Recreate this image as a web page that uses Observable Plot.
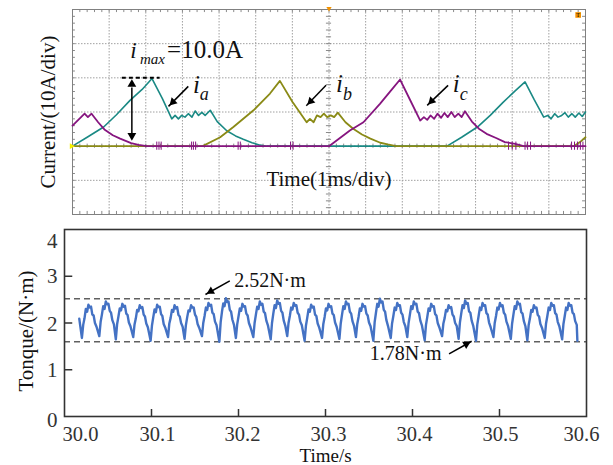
<!DOCTYPE html>
<html><head><meta charset="utf-8">
<script src="https://cdn.jsdelivr.net/npm/d3@7"></script>
<script src="https://cdn.jsdelivr.net/npm/@observablehq/plot@0.6"></script>
<style>
body{margin:0;background:#fff;width:613px;height:465px;overflow:hidden;position:relative;font-family:"Liberation Serif",serif;}
#top{position:absolute;left:0;top:0}
#bot{position:absolute;left:0;top:220px}
</style></head><body><div id="top"></div><div id="bot"></div>
<script>
// ---------- top panel: phase currents (time in ms, current in A) ----------
const iaT = [0,0.4,0.85,1.2,1.57,1.9,2.17,2.45,2.71,2.8,2.89,2.98,3.07,3.16,3.26,3.35,3.44,3.53,3.62,3.76,3.95,4.21,4.45,4.66,4.9,5.12,5.3,10.22,10.62,11.05,11.4,11.75,12.08,12.35,12.6,12.86,12.97,13.06,13.16,13.25,13.35,13.44,13.53,13.63,13.72,13.82,13.91,14.0];
const iaI = [0,1.3,2.8,4.6,6.7,8.3,9.9,7.0,4.0,4.5,4.0,4.5,4.25,4.75,4.25,5.15,4.5,4.95,4.5,5.25,3.6,2.25,1.5,1.0,0.5,0.15,0,0,1.3,2.8,4.5,6.4,8.1,9.4,6.8,4.25,4.5,4.0,4.75,4.25,4.5,4.9,4.25,4.75,4.25,4.85,4.35,5.0];
const ibT = [0,3.55,4.03,4.39,4.94,5.39,5.66,6.0,6.39,6.48,6.58,6.67,6.77,6.86,6.95,7.05,7.14,7.24,7.45,7.66,7.9,8.13,8.4,8.6,8.83,13.68,13.85,14.0];
const ibI = [0,0,1.3,2.8,5.25,7.7,9.55,6.5,3.5,4.0,3.5,4.5,4.25,4.75,4.25,4.5,4.25,4.9,3.5,2.55,1.7,1.1,0.5,0.25,0,0,0.6,1.3];
const icT = [0,0.33,0.42,0.52,0.7,0.87,1.1,1.3,1.6,1.8,2.03,7.0,7.57,7.94,8.39,8.7,8.94,9.2,9.49,9.59,9.68,9.77,9.87,9.96,10.06,10.15,10.24,10.34,10.43,10.53,10.62,10.71,10.9,11.09,11.3,11.56,11.8,12.08,12.31,14.0];
const icI = [3.0,4.75,4.25,4.75,3.5,2.45,1.6,1.1,0.45,0.2,0,0,2.3,3.5,6.2,8.2,9.75,6.9,3.75,4.25,3.85,4.5,4.0,4.75,4.15,4.85,4.25,5.0,4.25,4.75,4.25,5.1,3.6,2.55,1.8,1.2,0.6,0.35,0,0];
const icSpikeT = [2.3,2.36,2.42,3.25,3.3,3.36,4.52,4.58,5.95,6.02,11.9,12.0,12.1,12.35,12.42,12.5,13.62,13.7,13.78,13.86,13.93];
const iMax = 10.0;

// ---------- bottom panel: torque (time in s, N·m) ----------
const torqueDips = [30.020,30.040,30.059,30.079,30.099,30.119,30.138,30.158,30.178,30.197,30.217,30.237,30.256,30.276,30.296,30.316,30.335,30.355,30.375,30.394,30.414,30.434,30.453,30.473,30.493,30.513,30.532,30.552,30.572];
const torquePhase = [0,0.0015,0.003,0.0045,0.006,0.0075,0.009,0.0105,0.012,0.0135,0.015,0.0168];
const torqueCycles = [
 [1.68,1.96,2.10,2.30,2.24,2.39,2.33,2.35,2.18,2.16,2.00,1.92],
 [1.72,2.02,2.18,2.36,2.30,2.46,2.40,2.41,2.26,2.22,2.06,1.97],
 [1.65,1.98,2.14,2.31,2.27,2.41,2.35,2.37,2.20,2.17,2.01,1.93],
 [1.70,1.97,2.10,2.28,2.25,2.38,2.32,2.34,2.18,2.14,1.99,1.91],
 [1.62,1.94,2.12,2.29,2.23,2.39,2.34,2.35,2.19,2.15,1.98,1.90],
 [1.70,1.99,2.11,2.28,2.24,2.38,2.31,2.34,2.17,2.14,2.00,1.92],
 [1.66,1.95,2.12,2.27,2.25,2.38,2.33,2.33,2.18,2.13,1.98,1.90],
 [1.72,2.00,2.15,2.33,2.28,2.43,2.37,2.39,2.22,2.19,2.03,1.95],
 [1.60,2.02,2.24,2.42,2.36,2.53,2.45,2.46,2.28,2.24,2.07,1.96],
 [1.68,1.97,2.14,2.31,2.26,2.41,2.35,2.36,2.20,2.16,2.00,1.91],
 [1.70,2.00,2.18,2.35,2.30,2.46,2.39,2.41,2.24,2.21,2.05,1.95],
 [1.65,2.00,2.20,2.38,2.32,2.48,2.41,2.43,2.26,2.22,2.05,1.94],
 [1.72,2.00,2.15,2.33,2.29,2.43,2.37,2.38,2.22,2.18,2.03,1.95],
 [1.62,1.94,2.11,2.29,2.24,2.39,2.33,2.35,2.18,2.15,1.99,1.90],
 [1.68,1.98,2.13,2.31,2.27,2.41,2.34,2.36,2.20,2.17,2.01,1.92],
 [1.66,1.99,2.18,2.36,2.30,2.46,2.40,2.41,2.24,2.20,2.04,1.94],
 [1.70,1.98,2.13,2.31,2.26,2.41,2.35,2.36,2.20,2.16,2.01,1.93],
 [1.62,2.02,2.22,2.41,2.35,2.52,2.44,2.46,2.28,2.24,2.06,1.94],
 [1.68,1.99,2.15,2.33,2.28,2.43,2.37,2.38,2.22,2.18,2.02,1.93],
 [1.70,2.00,2.18,2.36,2.30,2.46,2.40,2.41,2.24,2.21,2.05,1.95],
 [1.63,1.96,2.13,2.31,2.26,2.41,2.35,2.36,2.19,2.16,2.00,1.91],
 [1.72,1.99,2.11,2.28,2.25,2.38,2.32,2.34,2.18,2.14,2.00,1.94],
 [1.66,2.01,2.20,2.38,2.32,2.48,2.41,2.43,2.25,2.22,2.05,1.94],
 [1.62,1.97,2.15,2.33,2.28,2.43,2.37,2.38,2.21,2.18,2.01,1.91],
 [1.70,2.00,2.15,2.33,2.29,2.43,2.36,2.38,2.22,2.18,2.03,1.94],
 [1.66,1.99,2.18,2.36,2.30,2.46,2.40,2.41,2.23,2.20,2.04,1.93],
 [1.63,1.95,2.10,2.28,2.24,2.38,2.32,2.33,2.17,2.14,1.98,1.90],
 [1.68,1.99,2.15,2.33,2.28,2.43,2.37,2.38,2.21,2.18,2.02,1.93],
 [1.65,1.98,2.15,2.33,2.28,2.43,2.37,2.38,2.22,2.19,2.04,1.96]
];
const torqueStart = [30.017, 2.09];
const torqueEnd = [30.5895, 1.62];
const torqueLimitLines = [2.52, 1.6];
const torqueLimitLabels = ["2.52N·m", "1.78N·m"];
const torqueXTicks = [30.0,30.1,30.2,30.3,30.4,30.5,30.6];
const torqueYTicks = [0,1,2,3,4];

// ---------- build tables ----------
const zip = (T, V) => T.map((t, i) => ({t, v: V[i]}));
const ia = zip(iaT, iaI), ib = zip(ibT, ibI), ic = zip(icT, icI);
const torque = [{t: torqueStart[0], v: torqueStart[1]}];
torqueDips.forEach((d, k) => torquePhase.forEach((p, j) => torque.push({t: d + p, v: torqueCycles[k][j]})));
torque.push({t: torqueEnd[0], v: torqueEnd[1]});

const SERIF = "Liberation Serif";
const TEAL = "#1a8984", OLIVE = "#8a8a16", PURPLE = "#86157f", BLUE = "#4472c4";

function arrow(x1, y1, x2, y2, rot, ox, oy, r = 4) {
  return [
    Plot.link([0], {x1: () => x1, y1: () => y1, x2: () => x2, y2: () => y2, stroke: "black", strokeWidth: 1.5}),
    Plot.dot([0], {x: () => x2, y: () => y2, symbol: "triangle2", r, fill: "black", stroke: "none", rotate: rot, dx: ox, dy: oy})
  ];
}

const minorX = d3.range(0, 14.001, 0.2);
const minorY = d3.range(-10, 20.001, 1);
const tickC = "#8a8a8a";

const topPlot = Plot.plot({
  width: 613, height: 220,
  marginLeft: 72, marginRight: 28, marginTop: 9, marginBottom: 6,
  x: {domain: [0, 14], axis: null},
  y: {domain: [-10, 20], axis: null},
  style: {fontFamily: SERIF, background: "transparent", overflow: "visible", color: "#111"},
  marks: [
    Plot.ruleX(d3.range(1, 14), {stroke: "#a0a0a0", strokeDasharray: "1.5,1.5"}),
    Plot.ruleY([-5, 0, 5, 10, 15], {stroke: "#a0a0a0", strokeDasharray: "1.5,1.5"}),
    Plot.ruleX(minorX, {y1: 20, y2: 19.55, stroke: tickC}),
    Plot.ruleX(minorX, {y1: -10, y2: -9.55, stroke: tickC}),
    Plot.ruleX(minorX, {y1: -0.3, y2: 0.3, stroke: tickC}),
    Plot.ruleY(minorY, {x1: 0, x2: 0.08, stroke: tickC}),
    Plot.ruleY(minorY, {x1: 14, x2: 13.92, stroke: tickC}),
    Plot.ruleY(minorY, {x1: 6.93, x2: 7.07, stroke: tickC}),
    Plot.frame({stroke: "#808080"}),
    Plot.line(ia, {x: "t", y: "v", stroke: TEAL, strokeWidth: 1.6}),
    Plot.line(ib, {x: "t", y: "v", stroke: OLIVE, strokeWidth: 1.8}),
    Plot.ruleX(icSpikeT, {y1: -0.6, y2: 0.6, stroke: PURPLE, strokeWidth: 1}),
    Plot.line(ic, {x: "t", y: "v", stroke: PURPLE, strokeWidth: 1.8}),
    // scope markers
    Plot.dot([0], {x: () => 7, y: () => 20, symbol: "triangle2", rotate: 180, r: 2.5, fill: "#f39200", stroke: "none", dy: -1}),
    Plot.dot([0], {x: () => 13.8, y: () => 19.2, symbol: "square2", r: 3.6, fill: "#f39200", stroke: "none"}),
    Plot.text(["T"], {x: () => 13.8, y: () => 19.2, fontSize: 6, fill: "#000"}),
    Plot.dot([0], {x: () => 0, y: () => 0, symbol: "triangle2", rotate: 90, r: 2.8, fill: "#f5f000", stroke: "none", dx: -1}),
    // i_max annotation
    Plot.ruleY([iMax], {x1: 1.36, x2: 2.39, stroke: "black", strokeWidth: 2, strokeDasharray: "4,3"}),
    Plot.ruleX([1.62], {y1: 8.5, y2: 1.6, stroke: "black", strokeWidth: 1.5}),
    Plot.dot([0], {x: () => 1.62, y: () => iMax, symbol: "triangle2", r: 4.2, fill: "black", stroke: "none", dy: 6.5}),
    Plot.dot([0], {x: () => 1.62, y: () => 0.6, symbol: "triangle2", rotate: 180, r: 4.2, fill: "black", stroke: "none", dy: -6.5}),
    Plot.text(["i"], {x: () => 1.573, y: () => 12.86, fontSize: 23, fontStyle: "italic", textAnchor: "start", lineAnchor: "bottom"}),
    Plot.text(["max"], {x: () => 1.84, y: () => 11.98, fontSize: 15, fontStyle: "italic", textAnchor: "start", lineAnchor: "bottom"}),
    Plot.text(["=10.0A"], {x: () => 2.58, y: () => 12.86, fontSize: 25, textAnchor: "start", lineAnchor: "bottom"}),
    // phase labels
    ...arrow(3.16, 8.75, 2.62, 5.82, 225, 4.4, -4.4),
    Plot.text(["i"], {x: () => 3.29, y: () => 7.73, fontSize: 25, fontStyle: "italic", textAnchor: "start", lineAnchor: "bottom"}),
    Plot.text(["a"], {x: () => 3.47, y: () => 6.7, fontSize: 18, fontStyle: "italic", textAnchor: "start", lineAnchor: "bottom"}),
    ...arrow(6.92, 8.9, 6.38, 5.92, 225, 4.4, -4.4),
    Plot.text(["i"], {x: () => 7.19, y: () => 7.87, fontSize: 25, fontStyle: "italic", textAnchor: "start", lineAnchor: "bottom"}),
    Plot.text(["b"], {x: () => 7.38, y: () => 6.69, fontSize: 18, fontStyle: "italic", textAnchor: "start", lineAnchor: "bottom"}),
    ...arrow(10.25, 8.9, 9.68, 5.97, 225, 4.4, -4.4),
    Plot.text(["i"], {x: () => 10.38, y: () => 7.87, fontSize: 25, fontStyle: "italic", textAnchor: "start", lineAnchor: "bottom"}),
    Plot.text(["c"], {x: () => 10.57, y: () => 6.69, fontSize: 18, fontStyle: "italic", textAnchor: "start", lineAnchor: "bottom"}),
    Plot.text(["Time(1ms/div)"], {x: () => 7, y: () => -5.9, fontSize: 21, lineAnchor: "bottom"}),
    Plot.text(["Current/(10A/div)"], {frameAnchor: "left", textAnchor: "middle", dx: -24, rotate: -90, fontSize: 21})
  ]
});
document.getElementById("top").appendChild(topPlot);

const xLabelDx = [16, 6, 4, 3, 2, 1, -5];
const yLabelDy = [4, 1, 1, 0, 12];
const botPlot = Plot.plot({
  width: 613, height: 245,
  marginLeft: 64, marginRight: 27, marginTop: 9, marginBottom: 49,
  x: {domain: [30.0, 30.6], axis: null},
  y: {domain: [0, 4], axis: null},
  style: {fontFamily: SERIF, fontSize: "21px", background: "transparent", overflow: "visible", color: "#333"},
  marks: [
    Plot.ruleY(torqueLimitLines, {stroke: "#606060", strokeWidth: 1.4, strokeDasharray: "6,4"}),
    Plot.line(torque, {x: "t", y: "v", stroke: BLUE, strokeWidth: 2.4}),
    Plot.ruleX(torqueXTicks.slice(1, -1), {y1: 0, y2: 0.15, stroke: "#333", strokeWidth: 1.5}),
    Plot.ruleY(torqueYTicks.slice(1, -1), {x1: 30.0, x2: 30.0095, stroke: "#333", strokeWidth: 1.5}),
    Plot.frame({stroke: "#333", strokeWidth: 1.6}),
    ...torqueXTicks.map((t, i) => Plot.text([t], {x: d => d, y: () => 0, text: d => d.toFixed(1), dx: xLabelDx[i], dy: 10, lineAnchor: "top", fontSize: 20.5, fill: "#333"})),
    ...torqueYTicks.map((v, i) => Plot.text([v], {x: () => 30.0, y: d => d, text: d => String(d), dx: -7, dy: yLabelDy[i], textAnchor: "end", fontSize: 21, fill: "#333"})),
    ...arrow(30.19, 2.90, 30.162, 2.61, 240, 5.4, -3.1),
    Plot.text([torqueLimitLabels[0]], {x: () => 30.195, y: () => 2.78, fontSize: 20, textAnchor: "start", lineAnchor: "bottom", fill: "#111"}),
    ...arrow(30.442, 1.34, 30.468, 1.61, 61, -5.4, 3.0),
    Plot.text([torqueLimitLabels[1]], {x: () => 30.351, y: () => 1.2, fontSize: 20, textAnchor: "start", lineAnchor: "bottom", fill: "#111"}),
    Plot.text(["Tonque/(N·m)"], {frameAnchor: "left", textAnchor: "middle", dx: -38, dy: 8, rotate: -90, fontSize: 21, fill: "#111"}),
    Plot.text(["Time/s"], {frameAnchor: "bottom", dy: 45, fontSize: 19, lineAnchor: "bottom", fill: "#111"})
  ]
});
document.getElementById("bot").appendChild(botPlot);
</script></body></html>
